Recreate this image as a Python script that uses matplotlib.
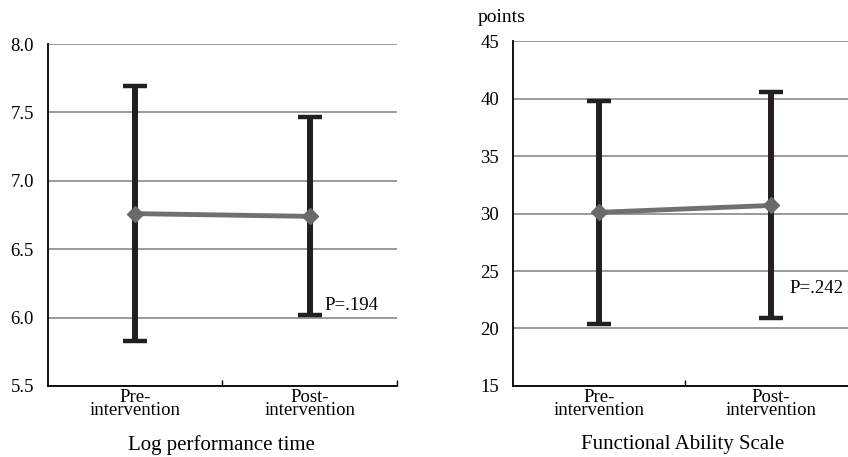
import matplotlib
matplotlib.use("Agg")
import matplotlib.pyplot as plt

plt.rcParams['font.family'] = ['Liberation Serif', 'DejaVu Serif']

categories = ["Pre-\nintervention", "Post-\nintervention"]

log_mean = [6.76, 6.74]
log_upper = [7.69, 7.47]
log_lower = [5.83, 6.02]

fas_mean = [30.1, 30.7]
fas_upper = [39.8, 40.6]
fas_lower = [20.4, 20.9]

log_ticks = [5.5, 6.0, 6.5, 7.0, 7.5, 8.0]
fas_ticks = [15, 20, 25, 30, 35, 40, 45]

fig = plt.figure(figsize=(8.48, 4.57), dpi=100)
ax1 = fig.add_axes([48 / 848, 0.1554, 349 / 848, 0.7483])
ax2 = fig.add_axes([513 / 848, 0.1554, 344 / 848, 0.7548])


def draw(ax, mean, upper, lower, ticks, ylim, title, title_x, ptext, pxy, fmt):
    xs = [0.5, 1.5]
    lo = [m - l for m, l in zip(mean, lower)]
    hi = [u - m for m, u in zip(mean, upper)]
    ax.set_ylim(*ylim)
    ax.set_xlim(0, 2)
    ax.set_yticks(ticks)
    ax.set_yticklabels([fmt.format(t) for t in ticks], fontsize=13.5)
    for t in ticks:
        ax.axhline(t, color='#7f7f7f', lw=1.1, zorder=0)
    ax.errorbar(xs, mean, yerr=[lo, hi], fmt='none', ecolor='#231f20',
                elinewidth=4.3, capsize=8.3, capthick=3.2, zorder=2)
    ax.plot(xs, mean, color='#707070', lw=3.5, marker='D', markersize=8,
            markerfacecolor='#6a6a6a', markeredgecolor='#6a6a6a', zorder=3)
    for s in ['top', 'right']:
        ax.spines[s].set_visible(False)
    ax.spines['left'].set_color('black')
    ax.spines['left'].set_linewidth(1.3)
    ax.spines['bottom'].set_color('black')
    ax.spines['bottom'].set_linewidth(1.3)
    ax.tick_params(axis='y', length=0, pad=10)
    ax.set_xticks([1, 2])
    ax.set_xticklabels(['', ''])
    ax.tick_params(axis='x', which='major', direction='in', length=4, width=1)
    ax.set_xticks(xs, minor=True)
    ax.set_xticklabels(categories, minor=True, fontsize=13.5, linespacing=0.72)
    ax.tick_params(axis='x', which='minor', length=0, pad=2)
    fig.text(title_x, 1 - 445 / 457, title, ha='center', va='center',
             fontsize=15)
    ax.text(pxy[0], pxy[1], ptext, fontsize=13.5, ha='left', va='center')


draw(ax1, log_mean, log_upper, log_lower, log_ticks, (5.5, 8.0),
     "Log performance time", 221 / 848, "P=.194", (1.586, 6.09), "{:.1f}")
draw(ax2, fas_mean, fas_upper, fas_lower, fas_ticks, (15, 45),
     "Functional Ability Scale", 683 / 848, "P=.242", (1.605, 23.5), "{:d}")

fig.text(478 / 848, 1 - 18 / 457, "points", fontsize=14, ha='left', va='center')

fig.savefig("out.png", dpi=100)
